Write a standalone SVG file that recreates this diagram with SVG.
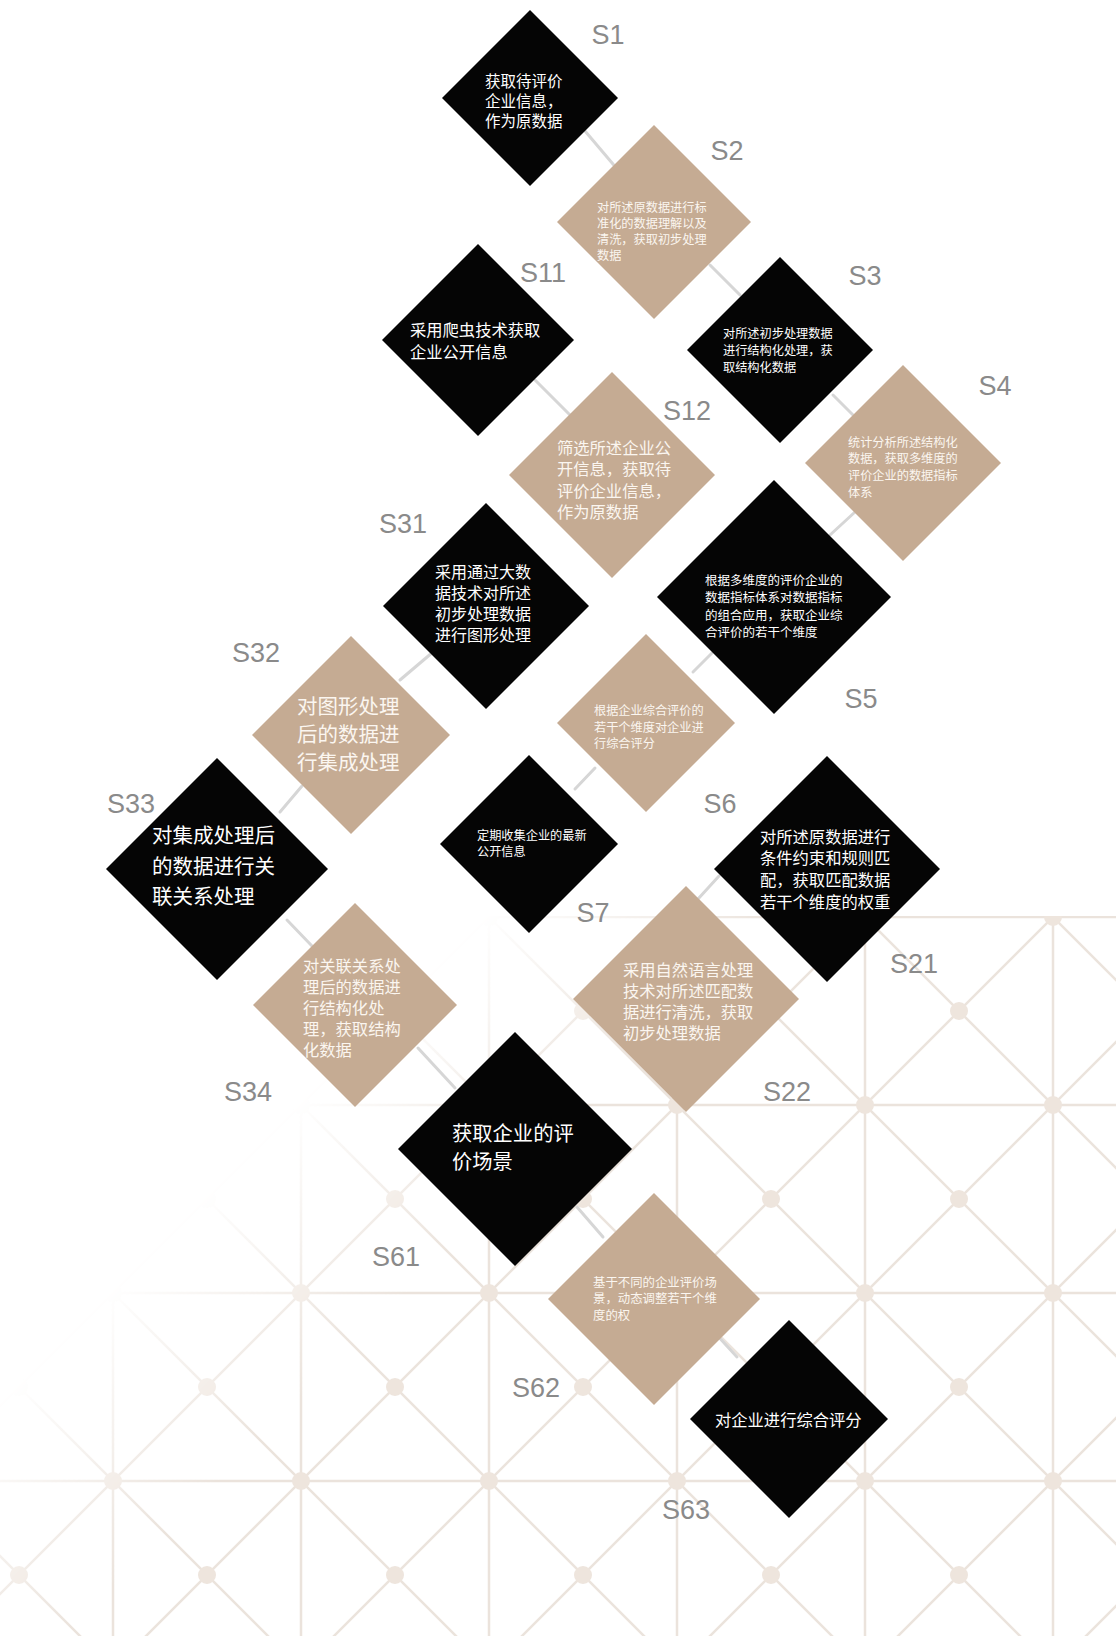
<svg xmlns="http://www.w3.org/2000/svg" width="1116" height="1636" viewBox="0 0 1116 1636">
<style>
.lbl{font-family:"Liberation Sans",Arial,sans-serif;font-size:27px;fill:#8a8a8a}
.bk{fill:#050505}
.tn{fill:#c5ab93}
.t{font-family:"Noto Sans CJK SC","Noto Sans",sans-serif;fill:#ffffff}
.tt{font-family:"Noto Sans CJK SC","Noto Sans",sans-serif;fill:#fbf6f0}
.s12{font-size:12.2px}
.s16{font-size:16.3px}
.s20{font-size:20.5px}
#connectors line{stroke:#d6d6d6;stroke-width:3;stroke-linecap:round}
.gl{stroke:#ebe3dc;stroke-width:2.5}
.gd{fill:#eee5dd}
</style>
<defs>
<pattern id="lattice" patternUnits="userSpaceOnUse" x="113" y="165" width="188" height="188">
<line class="gl" x1="0" y1="0" x2="188" y2="0"/>
<line class="gl" x1="0" y1="188" x2="188" y2="188"/>
<line class="gl" x1="0" y1="0" x2="0" y2="188"/>
<line class="gl" x1="188" y1="0" x2="188" y2="188"/>
<line class="gl" x1="0" y1="0" x2="188" y2="188"/>
<line class="gl" x1="188" y1="0" x2="0" y2="188"/>
<circle class="gd" cx="0" cy="0" r="9"/>
<circle class="gd" cx="188" cy="0" r="9"/>
<circle class="gd" cx="0" cy="188" r="9"/>
<circle class="gd" cx="188" cy="188" r="9"/>
<circle class="gd" cx="94" cy="94" r="9"/>
</pattern>
<linearGradient id="fadeGrad" gradientUnits="userSpaceOnUse" x1="700" y1="700" x2="850" y2="850">
<stop offset="0" stop-color="#000"/>
<stop offset="1" stop-color="#fff"/>
</linearGradient>
<mask id="fade" maskUnits="userSpaceOnUse" x="0" y="0" width="1116" height="1636">
<rect x="0" y="0" width="1116" height="1636" fill="url(#fadeGrad)"/>
</mask>
</defs>
<rect x="0" y="0" width="1116" height="1636" fill="#ffffff"/>
<g id="background-grid" mask="url(#fade)">
<rect x="0" y="916" width="1116" height="720" fill="url(#lattice)"/>
</g>
<g id="connectors">
<line x1="585" y1="131" x2="618" y2="170"/>
<line x1="710" y1="265" x2="740" y2="295"/>
<line x1="833" y1="395" x2="853" y2="415"/>
<line x1="830" y1="535" x2="855" y2="512"/>
<line x1="535" y1="380" x2="570" y2="415"/>
<line x1="400" y1="680" x2="433" y2="652"/>
<line x1="280" y1="812" x2="302" y2="786"/>
<line x1="287" y1="920" x2="312" y2="946"/>
<line x1="418" y1="1048" x2="455" y2="1088"/>
<line x1="693" y1="672" x2="712" y2="653"/>
<line x1="575" y1="789" x2="595" y2="768"/>
<line x1="698" y1="899" x2="719" y2="876"/>
<line x1="577" y1="1207" x2="603" y2="1237"/>
<line x1="715" y1="1333" x2="737" y2="1357"/>
</g>
<g id="S1">
<polygon class="bk" points="530,10 618,98 530,186 442,98"/>
<text class="t" font-size="15.5"><tspan x="485" y="87">获取待评价</tspan><tspan x="485" y="107">企业信息，</tspan><tspan x="485" y="127">作为原数据</tspan></text>
<text class="lbl" x="608" y="44" text-anchor="middle">S1</text>
</g>
<g id="S2">
<polygon class="tn" points="654,125 751,222 654,319 557,222"/>
<text class="tt s12"><tspan x="597" y="212">对所述原数据进行标</tspan><tspan x="597" y="228">准化的数据理解以及</tspan><tspan x="597" y="244">清洗，获取初步处理</tspan><tspan x="597" y="260">数据</tspan></text>
<text class="lbl" x="727" y="160" text-anchor="middle">S2</text>
</g>
<g id="S11">
<polygon class="bk" points="478,244 574,340 478,436 382,340"/>
<text class="t s16"><tspan x="410" y="336">采用爬虫技术获取</tspan><tspan x="410" y="358">企业公开信息</tspan></text>
<text class="lbl" x="543" y="282" text-anchor="middle">S11</text>
</g>
<g id="S3">
<polygon class="bk" points="780,257 873,350 780,443 687,350"/>
<text class="t s12"><tspan x="723" y="338">对所述初步处理数据</tspan><tspan x="723" y="355">进行结构化处理，获</tspan><tspan x="723" y="372">取结构化数据</tspan></text>
<text class="lbl" x="865" y="285" text-anchor="middle">S3</text>
</g>
<g id="S12">
<polygon class="tn" points="612,372 715,475 612,578 509,475"/>
<text class="tt s16"><tspan x="557" y="454">筛选所述企业公</tspan><tspan x="557" y="475">开信息，获取待</tspan><tspan x="557" y="497">评价企业信息，</tspan><tspan x="557" y="518">作为原数据</tspan></text>
<text class="lbl" x="687" y="420" text-anchor="middle">S12</text>
</g>
<g id="S4">
<polygon class="tn" points="903,365 1001,463 903,561 805,463"/>
<text class="tt s12"><tspan x="848" y="447">统计分析所述结构化</tspan><tspan x="848" y="463">数据，获取多维度的</tspan><tspan x="848" y="480">评价企业的数据指标</tspan><tspan x="848" y="497">体系</tspan></text>
<text class="lbl" x="995" y="395" text-anchor="middle">S4</text>
</g>
<g id="S31">
<polygon class="bk" points="486,503 589,606 486,709 383,606"/>
<text class="t" font-size="16"><tspan x="435" y="578">采用通过大数</tspan><tspan x="435" y="599">据技术对所述</tspan><tspan x="435" y="620">初步处理数据</tspan><tspan x="435" y="641">进行图形处理</tspan></text>
<text class="lbl" x="403" y="533" text-anchor="middle">S31</text>
</g>
<g id="S5">
<polygon class="bk" points="774,480 891,597 774,714 657,597"/>
<text class="t" font-size="12.5"><tspan x="705" y="585">根据多维度的评价企业的</tspan><tspan x="705" y="602">数据指标体系对数据指标</tspan><tspan x="705" y="620">的组合应用，获取企业综</tspan><tspan x="705" y="637">合评价的若干个维度</tspan></text>
<text class="lbl" x="861" y="708" text-anchor="middle">S5</text>
</g>
<g id="S32">
<polygon class="tn" points="351,636 450,735 351,834 252,735"/>
<text class="tt s20"><tspan x="297" y="714">对图形处理</tspan><tspan x="297" y="742">后的数据进</tspan><tspan x="297" y="770">行集成处理</tspan></text>
<text class="lbl" x="256" y="662" text-anchor="middle">S32</text>
</g>
<g id="S6">
<polygon class="tn" points="646,634 735,723 646,812 557,723"/>
<text class="tt s12"><tspan x="594" y="715">根据企业综合评价的</tspan><tspan x="594" y="732">若干个维度对企业进</tspan><tspan x="594" y="748">行综合评分</tspan></text>
<text class="lbl" x="720" y="813" text-anchor="middle">S6</text>
</g>
<g id="S33">
<polygon class="bk" points="217,758 328,869 217,980 106,869"/>
<text class="t s20"><tspan x="152" y="843">对集成处理后</tspan><tspan x="152" y="874">的数据进行关</tspan><tspan x="152" y="904">联关系处理</tspan></text>
<text class="lbl" x="131" y="813" text-anchor="middle">S33</text>
</g>
<g id="S7">
<polygon class="bk" points="529,755 618,844 529,933 440,844"/>
<text class="t s12"><tspan x="477" y="840">定期收集企业的最新</tspan><tspan x="477" y="856">公开信息</tspan></text>
<text class="lbl" x="593" y="922" text-anchor="middle">S7</text>
</g>
<g id="S21">
<polygon class="bk" points="827,756 940,869 827,982 714,869"/>
<text class="t s16"><tspan x="760" y="843">对所述原数据进行</tspan><tspan x="760" y="864">条件约束和规则匹</tspan><tspan x="760" y="886">配，获取匹配数据</tspan><tspan x="760" y="908">若干个维度的权重</tspan></text>
<text class="lbl" x="914" y="973" text-anchor="middle">S21</text>
</g>
<g id="S34">
<polygon class="tn" points="355,903 457,1005 355,1107 253,1005"/>
<text class="tt s16"><tspan x="303" y="972">对关联关系处</tspan><tspan x="303" y="993">理后的数据进</tspan><tspan x="303" y="1014">行结构化处</tspan><tspan x="303" y="1035">理，获取结构</tspan><tspan x="303" y="1056">化数据</tspan></text>
<text class="lbl" x="248" y="1101" text-anchor="middle">S34</text>
</g>
<g id="S22">
<polygon class="tn" points="686,886 799,999 686,1112 573,999"/>
<text class="tt s16"><tspan x="623" y="976">采用自然语言处理</tspan><tspan x="623" y="997">技术对所述匹配数</tspan><tspan x="623" y="1018">据进行清洗，获取</tspan><tspan x="623" y="1039">初步处理数据</tspan></text>
<text class="lbl" x="787" y="1101" text-anchor="middle">S22</text>
</g>
<g id="S61">
<polygon class="bk" points="515,1032 632,1149 515,1266 398,1149"/>
<text class="t" font-size="20.3"><tspan x="452" y="1141">获取企业的评</tspan><tspan x="452" y="1169">价场景</tspan></text>
<text class="lbl" x="396" y="1266" text-anchor="middle">S61</text>
</g>
<g id="S62">
<polygon class="tn" points="654,1193 760,1299 654,1405 548,1299"/>
<text class="tt" font-size="12.4"><tspan x="593" y="1287">基于不同的企业评价场</tspan><tspan x="593" y="1303">景，动态调整若干个维</tspan><tspan x="593" y="1320">度的权</tspan></text>
<text class="lbl" x="536" y="1397" text-anchor="middle">S62</text>
</g>
<g id="S63">
<polygon class="bk" points="789,1320 888,1419 789,1518 690,1419"/>
<text class="t s16"><tspan x="715" y="1426">对企业进行综合评分</tspan></text>
<text class="lbl" x="686" y="1519" text-anchor="middle">S63</text>
</g>
</svg>
